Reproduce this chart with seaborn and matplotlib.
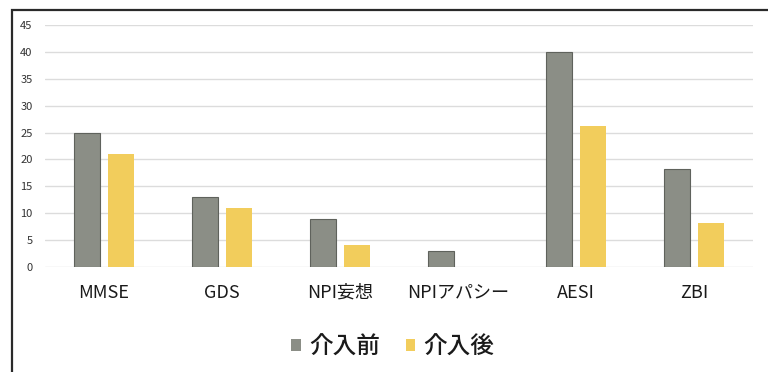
import matplotlib
matplotlib.use("Agg")
import matplotlib.pyplot as plt
import seaborn as sns
import pandas as pd
from matplotlib.patches import Rectangle, Patch

categories = ["MMSE", "GDS", "NPI妄想", "NPIアパシー", "AESI", "ZBI"]
before = [25, 13, 9, 3, 40, 18.2]
after = [21, 11, 4, 0, 26.2, 8.2]
series = ["介入前", "介入後"]
colors = ["#8b8e86", "#f2cd5c"]
yticks = [0, 5, 10, 15, 20, 25, 30, 35, 40, 45]

sns.set_theme(style="white")
plt.rcParams["font.family"] = ["Noto Sans CJK JP", "DejaVu Sans"]

df = pd.DataFrame({
    "cat": categories * 2,
    "val": before + after,
    "series": [series[0]] * len(categories) + [series[1]] * len(categories),
})

fig = plt.figure(figsize=(7.68, 3.72), dpi=100)
ax = fig.add_axes([45 / 768, (372 - 267) / 372, (753 - 45) / 768, (267 - 25) / 372])

sns.barplot(data=df, x="cat", y="val", hue="series", order=categories,
            hue_order=series, palette=colors, width=0.58, gap=0.23,
            saturation=1, legend=False, ax=ax)

for patch in ax.patches[:len(categories)]:
    patch.set_edgecolor("#5f625c")
    patch.set_linewidth(0.8)
for patch in ax.patches[len(categories):]:
    patch.set_edgecolor("none")

ax.set_xlim(-0.5, 5.5)
ax.set_ylim(0, 45)
ax.set_yticks(yticks)
ax.set_yticklabels([str(t) for t in yticks], fontsize=8, color="#333333")
ax.grid(axis="y", color="#dcdcdc", linewidth=1)
ax.set_axisbelow(True)
for s in ax.spines.values():
    s.set_visible(False)
ax.tick_params(axis="both", length=0)
ax.tick_params(axis="y", pad=9)
ax.tick_params(axis="x", pad=12)
for lbl in ax.get_xticklabels():
    lbl.set_fontsize(13)
    lbl.set_color("#1a1a1a")
ax.set_xlabel("")
ax.set_ylabel("")

handles = [Patch(facecolor=c, edgecolor="none") for c in colors]
leg = fig.legend(handles, series, loc="center", bbox_to_anchor=(393 / 768, (372 - 347) / 372),
                 ncol=2, frameon=False, prop={"size": 17, "weight": "medium"},
                 handlelength=0.4, handleheight=0.4,
                 handletextpad=0.35, columnspacing=1.1)
for t in leg.get_texts():
    t.set_color("#1a1a1a")

fig.patches.append(Rectangle((12 / 768, -0.05), 1.0, (372 - 10) / 372 + 0.05,
                             transform=fig.transFigure, fill=False,
                             edgecolor="#2a2a2a", linewidth=1.6))

fig.savefig("out.png", dpi=100)
